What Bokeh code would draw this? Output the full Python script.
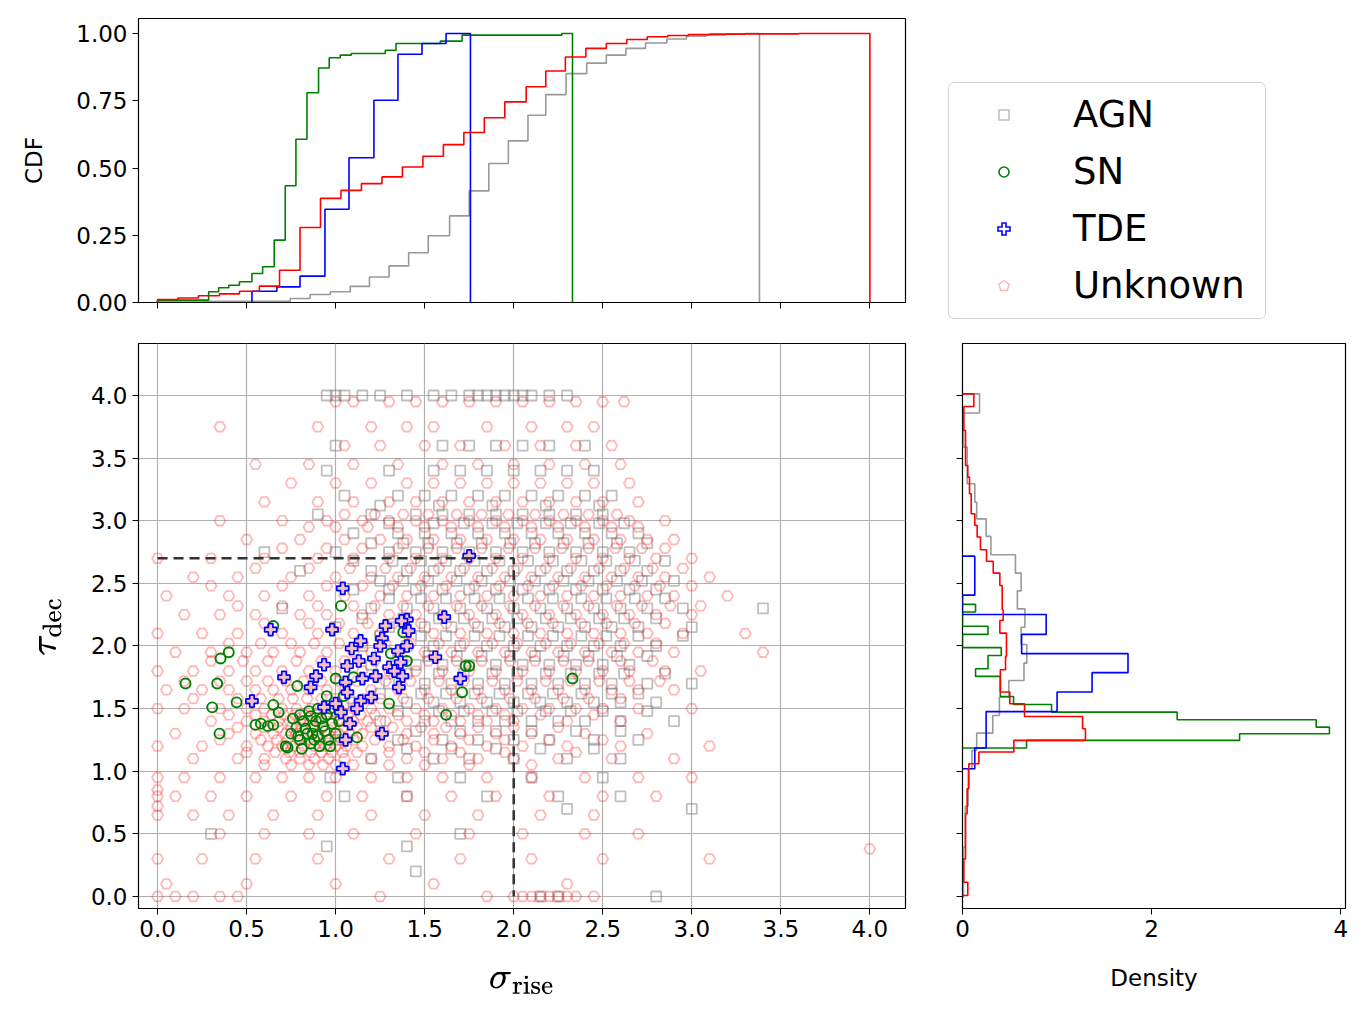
from bokeh.plotting import figure
from bokeh.layouts import column, row
from bokeh.models import Range1d, FixedTicker, NumeralTickFormatter, Div
from bokeh.embed import file_html
from bokeh.resources import INLINE

FONT = "DejaVu Sans"

# ---------------- CDF step data (bin edges, cumulative values) ----------------
cdf_agn_edges = [0, 0.745, 0.857, 0.97, 1.082, 1.19, 1.30, 1.41, 1.52, 1.64, 1.75, 1.86, 1.97, 2.08, 2.18,
                 2.294, 2.41, 2.52, 2.63, 2.74, 2.86, 2.97, 3.08, 3.19, 3.30, 3.38]
cdf_agn_vals = [0.004, 0.015, 0.03, 0.04, 0.06, 0.095, 0.136, 0.185, 0.248, 0.322, 0.415, 0.517, 0.601, 0.696,
                0.773, 0.851, 0.89, 0.92, 0.945, 0.965, 0.98, 0.99, 0.995, 0.998, 1.0]
cdf_sn_edges = [0, 0.287, 0.343, 0.40, 0.46, 0.53, 0.59, 0.655, 0.717, 0.777, 0.839, 0.904, 0.964, 1.026, 1.088,
                1.279, 1.339, 1.588, 1.71, 2.27, 2.33]
cdf_sn_vals = [0.009, 0.04, 0.055, 0.064, 0.077, 0.108, 0.133, 0.232, 0.434, 0.607, 0.78, 0.872, 0.91, 0.92,
               0.926, 0.938, 0.963, 0.972, 0.994, 1.0]
cdf_tde_edges = [0.53, 0.67, 0.80, 0.94, 1.075, 1.215, 1.35, 1.485, 1.62, 1.757]
cdf_tde_vals = [0.042, 0.058, 0.098, 0.347, 0.538, 0.752, 0.923, 0.963, 1.0]
cdf_unk_edges = [0, 0.114, 0.23, 0.347, 0.46, 0.572, 0.685, 0.80, 0.915, 1.03, 1.145, 1.26, 1.375, 1.49, 1.605,
                 1.72, 1.835, 1.95, 2.07, 2.18, 2.29, 2.405, 2.52, 2.635, 2.75, 2.865, 2.98, 3.1, 3.3, 3.6, 4.0]
cdf_unk_vals = [0.011, 0.017, 0.025, 0.032, 0.042, 0.061, 0.12, 0.279, 0.387, 0.417, 0.442, 0.467, 0.504, 0.544,
                0.587, 0.632, 0.687, 0.746, 0.802, 0.861, 0.913, 0.945, 0.963, 0.978, 0.988, 0.993, 0.996,
                0.998, 0.999, 1.0]

# ---------------- density histogram data (tau_dec bin edges, density) ----------------
den_agn_edges = [4.013, 3.86, 3.588, 3.295, 3.148, 3.015, 2.875, 2.728, 2.582, 2.44, 2.296, 2.15, 2.012, 1.863,
                 1.724, 1.591, 1.445, 1.304, 1.166, 1.02, 0.72, 0.394, -0.005]
den_agn_vals = [0.18, 0.01, 0.05, 0.13, 0.15, 0.25, 0.3, 0.56, 0.62, 0.58, 0.66, 0.62, 0.68, 0.65, 0.49, 0.39,
                0.32, 0.15, 0.1, 0.06, 0.03, 0.01]
den_sn_edges = [2.332, 2.271, 2.157, 2.093, 1.987, 1.924, 1.818, 1.757, 1.597, 1.533, 1.472, 1.411, 1.352,
                1.299, 1.246, 1.185]
den_sn_vals = [0.138, 0, 0.27, 0, 0.41, 0.27, 0.138, 0.40, 0.54, 0.942, 2.27, 3.74, 3.88, 2.93, 0.677]
den_tde_edges = [2.717, 2.406, 2.251, 2.093, 1.939, 1.787, 1.633, 1.476, 1.185, 1.02]
den_tde_vals = [0.13, 0, 0.885, 0.625, 1.75, 1.37, 1.0, 0.25, 0.13]
den_unk_edges = [4.013, 3.912, 3.72, 3.441, 3.348, 3.215, 3.056, 2.963, 2.87, 2.768, 2.677, 2.582, 2.483, 2.289,
                 2.204, 2.103, 1.917, 1.81, 1.72, 1.632, 1.539, 1.437, 1.339, 1.246, 1.153, 1.06, 0.86, 0.66,
                 0.30, 0.114, 0.008]
den_unk_vals = [0.12, 0.014, 0.032, 0.056, 0.074, 0.092, 0.13, 0.155, 0.19, 0.254, 0.325, 0.395, 0.42, 0.43,
                0.395, 0.465, 0.455, 0.40, 0.40, 0.5, 0.656, 1.27, 1.30, 0.543, 0.173, 0.067, 0.049, 0.032,
                0.014, 0.056]

# ---------------- scatter points, as (tau_dec row, sigma_rise values) ----------------
agn_rows = [
    (4.0, [0.95, 1.0, 1.05, 1.15, 1.25, 1.4, 1.55, 1.65, 1.75, 1.8, 1.85, 1.9, 1.95, 2.0, 2.05, 2.1, 2.2, 2.3]),
    (3.6, [1.0, 1.6, 1.75, 1.9, 2.05, 2.2, 2.4]),
    (3.4, [0.95, 1.3, 1.55, 1.7, 1.85, 2.0, 2.15, 2.3, 2.45]),
    (3.2, [1.05, 1.35, 1.5, 1.65, 1.8, 1.95, 2.1, 2.25, 2.4, 2.55]),
    (3.12, [1.25, 1.58, 1.88, 2.18, 2.48]),
    (3.05, [0.9, 1.2, 1.45, 1.6, 1.75, 1.9, 2.05, 2.2, 2.35, 2.5]),
    (2.98, [1.3, 1.55, 1.72, 1.88, 2.02, 2.18, 2.32, 2.48, 2.62]),
    (2.9, [1.1, 1.35, 1.5, 1.65, 1.8, 1.95, 2.1, 2.25, 2.4, 2.55, 2.7]),
    (2.82, [1.2, 1.38, 1.52, 1.68, 1.82, 1.98, 2.12, 2.28, 2.42, 2.58, 2.75]),
    (2.75, [0.6, 1.0, 1.3, 1.45, 1.6, 1.75, 1.9, 2.05, 2.2, 2.35, 2.5, 2.65]),
    (2.68, [1.1, 1.32, 1.48, 1.62, 1.78, 1.92, 2.08, 2.22, 2.38, 2.52, 2.68, 2.85]),
    (2.6, [0.8, 1.2, 1.4, 1.55, 1.7, 1.85, 2.0, 2.15, 2.3, 2.45, 2.6, 2.75]),
    (2.52, [1.25, 1.38, 1.52, 1.68, 1.82, 1.98, 2.12, 2.28, 2.42, 2.58, 2.72, 2.9]),
    (2.45, [1.1, 1.3, 1.45, 1.6, 1.75, 1.9, 2.05, 2.2, 2.35, 2.5, 2.65, 2.8]),
    (2.38, [1.3, 1.48, 1.62, 1.78, 1.92, 2.08, 2.22, 2.38, 2.52, 2.68, 2.85]),
    (2.3, [0.7, 1.2, 1.4, 1.55, 1.7, 1.85, 2.0, 2.15, 2.3, 2.45, 2.6, 2.75, 2.95, 3.4]),
    (2.22, [1.15, 1.38, 1.58, 1.72, 1.88, 2.02, 2.18, 2.32, 2.48, 2.62, 2.8]),
    (2.15, [1.0, 1.3, 1.5, 1.65, 1.8, 1.95, 2.1, 2.25, 2.4, 2.55, 2.7, 3.0]),
    (2.08, [1.25, 1.48, 1.62, 1.78, 1.92, 2.08, 2.22, 2.38, 2.52, 2.7, 2.95]),
    (2.0, [1.15, 1.4, 1.55, 1.7, 1.85, 2.0, 2.15, 2.3, 2.45, 2.6, 2.8]),
    (1.92, [1.35, 1.52, 1.68, 1.82, 1.98, 2.12, 2.28, 2.42, 2.58, 2.75]),
    (1.85, [1.2, 1.45, 1.6, 1.75, 1.9, 2.05, 2.2, 2.35, 2.5, 2.65]),
    (1.78, [1.4, 1.58, 1.72, 1.88, 2.02, 2.18, 2.32, 2.48, 2.62, 2.85]),
    (1.7, [1.3, 1.5, 1.65, 1.8, 1.95, 2.1, 2.25, 2.4, 2.55, 2.75, 3.0]),
    (1.62, [1.25, 1.48, 1.62, 1.78, 1.92, 2.08, 2.22, 2.38, 2.55, 2.7]),
    (1.55, [1.1, 1.4, 1.55, 1.7, 1.85, 2.0, 2.15, 2.3, 2.45, 2.6, 2.8]),
    (1.48, [1.35, 1.58, 1.72, 1.88, 2.02, 2.18, 2.32, 2.5, 2.75]),
    (1.4, [1.25, 1.5, 1.65, 1.8, 1.95, 2.1, 2.25, 2.4, 2.6, 2.9]),
    (1.32, [1.45, 1.7, 1.9, 2.1, 2.35, 2.6]),
    (1.25, [1.0, 1.35, 1.6, 1.8, 2.0, 2.2, 2.45, 2.7]),
    (1.18, [1.4, 1.65, 1.9, 2.15, 2.45]),
    (1.1, [1.2, 1.55, 1.75, 2.0, 2.3, 2.6]),
    (0.95, [0.97, 1.35, 1.7, 2.1, 2.5]),
    (0.8, [1.05, 1.4, 1.85, 2.25, 2.6]),
    (0.7, [2.3, 3.0]),
    (0.5, [0.3, 1.7]),
    (0.4, [0.95, 1.4]),
    (0.2, [1.45]),
    (0.0, [2.15, 2.25, 2.8]),
]
unk_rows = [
    (3.95, [1.0, 1.1, 1.3, 1.45, 1.6, 1.75, 1.9, 2.05, 2.2, 2.35, 2.5, 2.62]),
    (3.75, [0.35, 0.9, 1.2, 1.4, 1.55, 1.85, 2.1, 2.3, 2.45]),
    (3.6, [1.05, 1.25, 1.5, 1.7, 1.95, 2.15, 2.35, 2.55]),
    (3.45, [0.55, 0.85, 1.1, 1.35, 1.6, 1.8, 2.0, 2.2, 2.4, 2.6]),
    (3.3, [0.75, 1.0, 1.2, 1.4, 1.55, 1.7, 1.85, 2.0, 2.15, 2.3, 2.45, 2.65]),
    (3.15, [0.6, 0.9, 1.1, 1.3, 1.45, 1.6, 1.75, 1.9, 2.05, 2.2, 2.35, 2.5, 2.7]),
    (3.05, [1.05, 1.22, 1.38, 1.52, 1.68, 1.82, 1.97, 2.12, 2.28, 2.42, 2.58]),
    (3.0, [0.35, 0.7, 0.95, 1.15, 1.3, 1.45, 1.6, 1.75, 1.9, 2.05, 2.2, 2.35, 2.5, 2.65, 2.85]),
    (2.95, [0.85, 1.0, 1.18, 1.35, 1.5, 1.65, 1.8, 1.95, 2.1, 2.25, 2.4, 2.55, 2.7]),
    (2.85, [0.5, 0.8, 1.05, 1.25, 1.4, 1.55, 1.7, 1.85, 2.0, 2.15, 2.3, 2.45, 2.6, 2.75, 2.9]),
    (2.78, [0.7, 0.95, 1.15, 1.35, 1.52, 1.68, 1.82, 1.97, 2.12, 2.27, 2.42, 2.57, 2.72, 2.85]),
    (2.7, [0.0, 0.3, 0.6, 0.9, 1.1, 1.3, 1.45, 1.6, 1.75, 1.9, 2.05, 2.2, 2.35, 2.5, 2.65, 2.8, 3.0]),
    (2.62, [0.55, 0.85, 1.08, 1.28, 1.42, 1.58, 1.72, 1.88, 2.02, 2.18, 2.32, 2.48, 2.62, 2.78, 2.95]),
    (2.55, [0.2, 0.45, 0.75, 1.0, 1.2, 1.35, 1.5, 1.65, 1.8, 1.95, 2.1, 2.25, 2.4, 2.55, 2.7, 2.85, 3.1]),
    (2.48, [0.3, 0.7, 0.95, 1.15, 1.32, 1.48, 1.62, 1.78, 1.92, 2.08, 2.22, 2.38, 2.52, 2.68, 2.82, 3.0]),
    (2.4, [0.05, 0.4, 0.6, 0.85, 1.05, 1.25, 1.4, 1.55, 1.7, 1.85, 2.0, 2.15, 2.3, 2.45, 2.6, 2.75, 2.9, 3.2]),
    (2.32, [0.45, 0.7, 0.9, 1.1, 1.22, 1.38, 1.52, 1.68, 1.82, 1.98, 2.12, 2.28, 2.42, 2.58, 2.72, 2.88, 3.05]),
    (2.25, [0.15, 0.35, 0.55, 0.8, 0.95, 1.15, 1.3, 1.45, 1.6, 1.75, 1.9, 2.05, 2.2, 2.35, 2.5, 2.65, 2.8, 3.0]),
    (2.18, [0.6, 0.85, 1.02, 1.18, 1.32, 1.48, 1.62, 1.78, 1.92, 2.08, 2.22, 2.38, 2.52, 2.68, 2.85]),
    (2.1, [0.0, 0.25, 0.45, 0.7, 0.9, 1.1, 1.25, 1.4, 1.55, 1.7, 1.85, 2.0, 2.15, 2.3, 2.45, 2.6, 2.75, 2.95, 3.3]),
    (2.02, [0.4, 0.58, 0.75, 0.88, 1.02, 1.15, 1.28, 1.42, 1.58, 1.72, 1.88, 2.02, 2.18, 2.32, 2.48, 2.62, 2.8]),
    (1.95, [0.1, 0.3, 0.5, 0.65, 0.8, 0.95, 1.1, 1.2, 1.35, 1.5, 1.65, 1.8, 1.95, 2.1, 2.25, 2.4, 2.55, 2.7,
            2.9, 3.4]),
    (1.88, [0.3, 0.48, 0.62, 0.78, 0.92, 1.05, 1.22, 1.38, 1.52, 1.68, 1.82, 1.98, 2.12, 2.28, 2.42, 2.6, 2.78]),
    (1.8, [0.0, 0.2, 0.4, 0.55, 0.7, 0.85, 1.0, 1.15, 1.3, 1.45, 1.6, 1.75, 1.9, 2.05, 2.2, 2.35, 2.5, 2.65,
           2.85, 3.05]),
    (1.72, [0.15, 0.35, 0.5, 0.62, 0.72, 0.82, 0.92, 1.02, 1.12, 1.28, 1.42, 1.58, 1.72, 1.88, 2.02, 2.18,
            2.32, 2.48, 2.65, 2.82]),
    (1.65, [0.05, 0.25, 0.4, 0.55, 0.65, 0.75, 0.85, 0.95, 1.05, 1.2, 1.35, 1.5, 1.65, 1.8, 1.95, 2.1, 2.25,
            2.4, 2.55, 2.7, 2.9]),
    (1.58, [0.2, 0.45, 0.58, 0.68, 0.76, 0.84, 0.92, 1.0, 1.08, 1.16, 1.25, 1.38, 1.52, 1.68, 1.82, 1.98,
            2.12, 2.28, 2.42, 2.6]),
    (1.5, [0.0, 0.15, 0.35, 0.5, 0.6, 0.7, 0.78, 0.86, 0.94, 1.02, 1.1, 1.2, 1.3, 1.45, 1.6, 1.75, 1.9, 2.05,
           2.2, 2.35, 2.5, 2.7, 3.0]),
    (1.45, [0.4, 0.55, 0.64, 0.71, 0.77, 0.83, 0.89, 0.95, 1.01, 1.07, 1.14, 1.22, 1.35, 1.5, 1.65, 1.8, 1.95,
            2.15, 2.45]),
    (1.4, [0.3, 0.5, 0.6, 0.68, 0.74, 0.8, 0.86, 0.92, 0.98, 1.04, 1.1, 1.18, 1.28, 1.4, 1.55, 1.7, 1.85, 2.0,
           2.3, 2.6]),
    (1.35, [0.45, 0.6, 0.68, 0.75, 0.81, 0.87, 0.93, 0.99, 1.05, 1.12, 1.2, 1.32, 1.48, 1.62, 1.8, 2.0, 2.25]),
    (1.3, [0.1, 0.4, 0.55, 0.65, 0.72, 0.78, 0.84, 0.9, 0.96, 1.02, 1.08, 1.15, 1.25, 1.4, 1.55, 1.7, 1.9,
           2.1, 2.4, 2.75]),
    (1.25, [0.35, 0.58, 0.67, 0.73, 0.79, 0.85, 0.91, 0.97, 1.03, 1.1, 1.22, 1.38, 1.55, 1.75, 1.95, 2.2, 2.5]),
    (1.2, [0.0, 0.25, 0.5, 0.62, 0.7, 0.76, 0.82, 0.88, 0.94, 1.0, 1.06, 1.15, 1.3, 1.45, 1.65, 1.85, 2.05,
           2.3, 2.6, 3.1]),
    (1.15, [0.5, 0.66, 0.74, 0.8, 0.86, 0.92, 0.98, 1.04, 1.12, 1.3, 1.5, 1.7, 1.95, 2.35]),
    (1.1, [0.2, 0.45, 0.6, 0.72, 0.8, 0.88, 0.96, 1.05, 1.2, 1.4, 1.6, 1.8, 2.0, 2.25, 2.55, 2.9]),
    (1.05, [0.6, 0.75, 0.85, 0.93, 1.0, 1.1, 1.3, 1.5, 1.75, 2.1]),
    (0.95, [0.0, 0.15, 0.35, 0.55, 0.7, 0.85, 1.0, 1.2, 1.4, 1.6, 1.85, 2.1, 2.4, 2.7, 3.0]),
    (0.85, [0.0]),
    (0.8, [0.0, 0.1, 0.3, 0.5, 0.75, 0.95, 1.15, 1.4, 1.65, 1.9, 2.2, 2.5, 2.8]),
    (0.72, [0.0]),
    (0.65, [0.0, 0.2, 0.4, 0.65, 0.9, 1.2, 1.5, 1.8, 2.15, 2.45]),
    (0.5, [0.35, 0.6, 0.85, 1.1, 1.45, 1.75, 2.05, 2.4, 2.7]),
    (0.38, [4.0]),
    (0.3, [0.0, 0.25, 0.55, 0.9, 1.3, 1.7, 2.1, 2.5, 3.1]),
    (0.1, [0.05, 0.5, 1.0, 1.55, 2.3]),
    (0.0, [0.0, 0.1, 0.2, 0.35, 0.45, 1.25, 1.85, 2.0, 2.05, 2.1, 2.15, 2.2, 2.25, 2.3, 2.35, 2.45]),
]
sn_x = [1.03, 0.65, 0.40, 0.354, 0.157, 0.335, 0.307, 0.444, 0.348, 0.55, 0.58, 0.62, 0.65, 0.65, 0.785, 0.95,
        1.0, 1.10, 1.31, 1.40, 1.38, 1.73, 1.75, 1.71, 1.62, 2.33, 1.30, 1.12, 0.73, 0.97, 1.045, 0.68,
        0.75, 0.78, 0.8, 0.82, 0.84, 0.86, 0.88, 0.9, 0.92, 0.94, 0.96, 0.98, 0.8, 0.85, 0.9, 0.95, 1.0, 0.72,
        0.76, 0.87, 0.83, 0.89, 0.93, 0.91, 0.86, 0.79, 1.02, 0.97, 0.81, 0.88]
sn_y = [2.32, 2.16, 1.95, 1.90, 1.70, 1.70, 1.51, 1.55, 1.30, 1.37, 1.38, 1.36, 1.37, 1.53, 1.68, 1.60,
        1.74, 1.75, 1.94, 1.88, 2.11, 1.84, 1.84, 1.63, 1.45, 1.74, 1.54, 1.27, 1.19, 1.20, 1.60, 1.47,
        1.3, 1.35, 1.25, 1.4, 1.3, 1.22, 1.36, 1.28, 1.42, 1.32, 1.25, 1.38, 1.45, 1.48, 1.5, 1.45, 1.3, 1.2,
        1.42, 1.3, 1.34, 1.4, 1.36, 1.2, 1.44, 1.28, 1.4, 1.5, 1.18, 1.25]
tde_x = [1.75, 1.04, 0.635, 0.98, 1.61, 1.40, 1.41, 1.28, 1.26, 1.25, 1.14, 1.09, 1.215, 1.35, 1.365, 1.13,
         1.065, 0.935, 1.30, 1.56, 1.375, 1.225, 1.15, 1.355, 1.70, 0.89, 0.71, 0.86, 1.056, 1.066, 1.20,
         1.14, 1.12, 1.0, 0.935, 1.03, 0.53, 1.08, 1.056, 1.26, 1.04, 1.37, 1.40, 1.33]
tde_y = [2.72, 2.46, 2.13, 2.13, 2.23, 2.21, 2.12, 2.16, 2.06, 2.0, 2.04, 1.98, 1.90, 1.96, 1.87, 1.88,
         1.84, 1.85, 1.83, 1.91, 1.76, 1.76, 1.74, 1.67, 1.74, 1.76, 1.75, 1.67, 1.71, 1.63, 1.59, 1.56,
         1.50, 1.54, 1.51, 1.47, 1.56, 1.38, 1.25, 1.30, 1.02, 2.2, 2.0, 1.8]

cut_x = [0.0, 2.0, 2.0]
cut_y = [2.7, 2.7, 0.0]

legend_labels = ["AGN", "SN", "TDE", "Unknown"]
scatter_ticks = [0, 0.5, 1, 1.5, 2, 2.5, 3, 3.5, 4]
cdf_ticks = [0, 0.25, 0.5, 0.75, 1.0]
density_ticks = [0, 2, 4]


def flatten(rows):
    xs, ys = [], []
    for yv, xl in rows:
        for xv in xl:
            xs.append(xv)
            ys.append(yv)
    return xs, ys


def cdf_line(edges, vals):
    xs, ys = [edges[0]], [0.0]
    for i, v in enumerate(vals):
        xs += [edges[i], edges[i + 1]]
        ys += [v, v]
    xs.append(edges[-1])
    ys.append(0.0)
    return xs, ys


def den_line(edges, vals):
    xs, ys = [0.0], [edges[0]]
    for i, v in enumerate(vals):
        xs += [v, v]
        ys += [edges[i], edges[i + 1]]
    xs.append(0.0)
    ys.append(edges[-1])
    return xs, ys


C_AGN, C_SN, C_TDE, C_UNK = "#808080", "green", "blue", "red"
TICK_FS = "23px"


def style(p):
    p.outline_line_color = "black"
    p.outline_line_width = 1.2
    for ax in p.axis:
        ax.major_label_text_font = FONT
        ax.major_label_text_font_size = TICK_FS
        ax.major_label_text_color = "black"
        ax.axis_label_text_font = FONT
        ax.axis_label_text_font_style = "normal"
        ax.axis_label_text_color = "black"
        ax.axis_label_text_font_size = TICK_FS
        ax.major_tick_out = 6
        ax.major_tick_in = 0
        ax.minor_tick_out = 0
        ax.minor_tick_in = 0
        ax.axis_line_color = None
        ax.major_tick_line_color = "black"


def blank_labels(ax, ticks):
    ax.major_label_overrides = {t: "" for t in ticks}
    ax.major_label_standoff = 0


xr = Range1d(-0.107, 4.2)
yr = Range1d(-0.096, 4.415)

# ---------------- top CDF ----------------
top = figure(x_range=xr, y_range=Range1d(0, 1.056), frame_width=767, frame_height=284,
             min_border_left=138, min_border_right=20, min_border_top=18, min_border_bottom=31,
             output_backend="svg", toolbar_location=None)
top.grid.visible = False
for (e, v, c, a) in [(cdf_agn_edges, cdf_agn_vals, C_AGN, 0.8), (cdf_sn_edges, cdf_sn_vals, C_SN, 1),
                     (cdf_tde_edges, cdf_tde_vals, C_TDE, 1), (cdf_unk_edges, cdf_unk_vals, C_UNK, 1)]:
    lx, ly = cdf_line(e, v)
    top.line(lx, ly, color=c, line_width=1.6, line_alpha=a)
top.xaxis.ticker = FixedTicker(ticks=scatter_ticks)
top.yaxis.ticker = FixedTicker(ticks=cdf_ticks)
top.yaxis.formatter = NumeralTickFormatter(format="0.00")
top.yaxis.axis_label = "CDF"
style(top)
blank_labels(top.xaxis[0], scatter_ticks)
top.yaxis.axis_label_standoff = 26

# ---------------- legend panel (HTML box with real text) ----------------
marker_svgs = [
    '<rect x="6" y="6" width="10" height="10" fill="none" stroke="#808080" stroke-opacity="0.6" stroke-width="1.3"/>',
    '<circle cx="11" cy="11" r="5" fill="none" stroke="green" stroke-width="1.6"/>',
    '<path d="M9,5 H13 V9 H17 V13 H13 V17 H9 V13 H5 V9 H9 Z" fill="white" stroke="blue" stroke-width="1.6"/>',
    '<polygon points="11,5.5 16.2,9.3 14.2,15.5 7.8,15.5 5.8,9.3" fill="none" stroke="red" stroke-opacity="0.3" stroke-width="1.3"/>',
]
items_html = ""
for i, (lab, svg) in enumerate(zip(legend_labels, marker_svgs)):
    top_px = 11 + 57 * i
    items_html += (
        f'<div style="position:absolute;left:44px;top:{top_px + 10}px;width:22px;height:22px;">'
        f'<svg width="22" height="22" xmlns="http://www.w3.org/2000/svg">{svg}</svg></div>'
        f'<div style="position:absolute;left:124px;top:{top_px}px;height:42px;line-height:42px;'
        f'font-family:\'DejaVu Sans\';font-size:37px;color:black;white-space:nowrap;">{lab}</div>'
    )
legend_html = (
    '<div style="position:relative;width:429px;height:333px;">'
    '<div style="position:absolute;left:23px;top:82px;width:318px;height:237px;'
    'border:1.3px solid #d5d5d5;border-radius:6px;background:white;">'
    + items_html + '</div></div>'
)
leg = Div(text=legend_html, width=429, height=333, margin=(0, 0, 0, 0))

# ---------------- scatter ----------------
sc = figure(x_range=xr, y_range=yr, frame_width=767, frame_height=565,
            min_border_left=138, min_border_right=20, min_border_top=10, min_border_bottom=60,
            output_backend="svg", toolbar_location=None)
ax_, ay_ = flatten(agn_rows)
ux_, uy_ = flatten(unk_rows)
sc.scatter(ax_, ay_, marker="square", size=10, fill_color=None, line_color=C_AGN, line_alpha=0.5, line_width=1.8)
sc.scatter(ux_, uy_, marker="hex", size=11, fill_color=None, line_color=C_UNK, line_alpha=0.28, line_width=1.8)
sc.scatter(sn_x, sn_y, marker="circle", size=10, fill_color=None, line_color=C_SN, line_width=1.9)
sc.scatter(tde_x, tde_y, marker="plus", size=12, fill_color="#f4c0c0", line_color=C_TDE, line_width=1.7)
sc.line(cut_x, cut_y, color="#333333", line_width=2.5, line_dash="10 6")
sc.xaxis.ticker = FixedTicker(ticks=scatter_ticks)
sc.yaxis.ticker = FixedTicker(ticks=scatter_ticks)
sc.xaxis.formatter = NumeralTickFormatter(format="0.0")
sc.yaxis.formatter = NumeralTickFormatter(format="0.0")
sc.grid.grid_line_color = "#b0b0b0"
sc.grid.grid_line_width = 1.2
style(sc)
sc.xaxis.axis_label = r"$$\sigma_{\text{rise}}$$"
sc.yaxis.axis_label = r"$$\tau_{\text{dec}}$$"
sc.xaxis.axis_label_text_font_size = "30px"
sc.yaxis.axis_label_text_font_size = "30px"
sc.xaxis.axis_label_standoff = 32
sc.yaxis.axis_label_standoff = 14

# ---------------- density ----------------
den = figure(x_range=Range1d(0, 4.05), y_range=yr, frame_width=383, frame_height=565,
             min_border_left=37, min_border_right=8, min_border_top=10, min_border_bottom=60,
             output_backend="svg", toolbar_location=None)
den.grid.visible = False
for (e, v, c, a) in [(den_agn_edges, den_agn_vals, C_AGN, 0.8), (den_sn_edges, den_sn_vals, C_SN, 1),
                     (den_tde_edges, den_tde_vals, C_TDE, 1), (den_unk_edges, den_unk_vals, C_UNK, 1)]:
    lx, ly = den_line(e, v)
    den.line(lx, ly, color=c, line_width=1.6, line_alpha=a)
den.xaxis.ticker = FixedTicker(ticks=density_ticks)
den.yaxis.ticker = FixedTicker(ticks=scatter_ticks)
den.xaxis.axis_label = "Density"
style(den)
blank_labels(den.yaxis[0], scatter_ticks)
den.xaxis.axis_label_standoff = 25

layout = column(row(top, leg), row(sc, den))
open("out.html", "w").write(file_html(layout, INLINE))
